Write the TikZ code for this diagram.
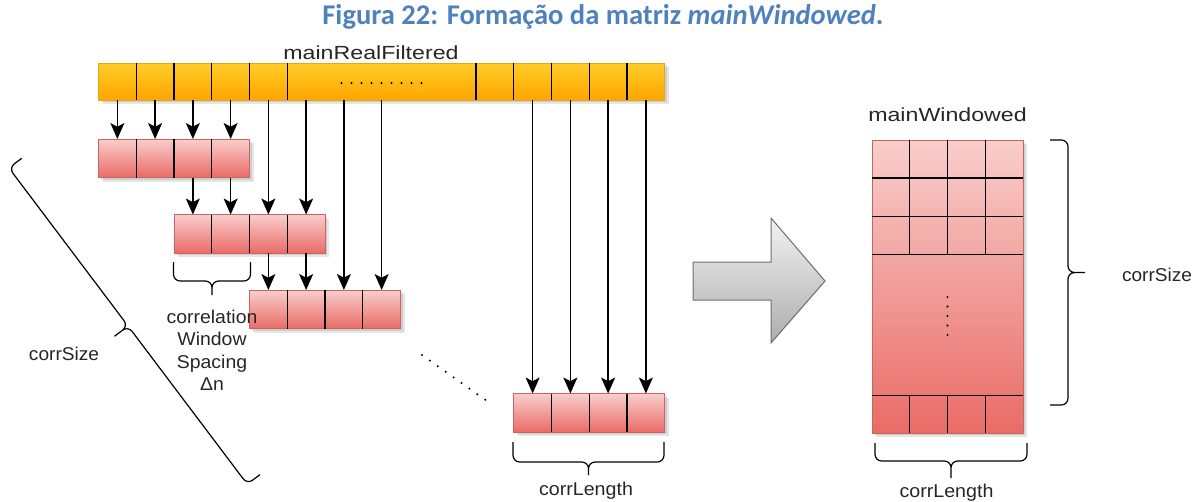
\documentclass[tikz,border=0pt]{standalone}
\usepackage{fontspec}
\setmainfont{Liberation Sans}
\newfontfamily\capfont{Carlito}
\usetikzlibrary{arrows.meta,calc}

\definecolor{redfill}{HTML}{F8CECC}
\definecolor{redgrad}{HTML}{EA6B66}
\definecolor{redline}{HTML}{C96561}
\definecolor{orfill}{HTML}{FFCD28}
\definecolor{orgrad}{HTML}{FFA500}
\definecolor{orline}{HTML}{E0A820}
\definecolor{grayfill}{HTML}{F2F2F2}
\definecolor{graygrad}{HTML}{ADADAD}
\definecolor{grayline}{HTML}{6E6E6E}
\definecolor{capblue}{HTML}{4F81BD}
\definecolor{txt}{HTML}{262626}

% a curly brace: origin, angle, length, arm depth, stem length
\newcommand\cbrace[6]{%
  \draw[bracestyle,shift={(#1,#2)},rotate=#3]
    (0,0) -- (0,#5) -- (#4/2,#5) -- (#4/2,#5+#6)
    (#4,0) -- (#4,#5) -- (#4/2,#5) -- (#4/2,#5+#6);}

% soft drop shadow under a box
\newcommand\boxshadow[4]{%
  \fill[black,opacity=0.10] (#1+2,#2+2) rectangle (#3+2,#4+2);
  \fill[black,opacity=0.10] (#1+4,#2+4) rectangle (#3+4,#4+4);}

\begin{document}
\begin{tikzpicture}[x=0.75pt,y=-0.75pt,
  rowbox/.style={draw=redline,line width=0.75pt,top color=redfill,bottom color=redgrad,
    minimum width=113.25pt,minimum height=28.875pt,inner sep=0pt,outer sep=0pt,anchor=north west},
  barbox/.style={draw=orline,line width=0.75pt,top color=orfill,bottom color=orgrad,
    minimum width=424.6875pt,minimum height=27.75pt,inner sep=0pt,outer sep=0pt,anchor=north west},
  matbox/.style={draw=redline,line width=0.75pt,top color=redfill,bottom color=redgrad,
    minimum width=113.25pt,minimum height=219.75pt,inner sep=0pt,outer sep=0pt,anchor=north west},
  rowcell/.style={minimum width=28.3125pt,minimum height=28.875pt,inner sep=0pt,outer sep=0pt,anchor=north west},
  barcell/.style={minimum width=28.3125pt,minimum height=27.75pt,inner sep=0pt,outer sep=0pt,anchor=north west},
  divider/.style={black,line width=0.9pt},
  arr/.style={black,line width=1.1pt,-{Stealth[length=12pt,width=10.5pt,inset=2.8pt]}},
  bracestyle/.style={black,line width=0.9pt,rounded corners=5pt},
  lbl/.style={text=txt,font=\fontsize{13.9}{16.9}\selectfont,inner sep=0pt},
  head/.style={text=txt,font=\fontsize{14.25}{17}\selectfont,inner sep=0pt},
  dot/.style={black}
]
\useasboundingbox (0,0) rectangle (1203,501);

% caption
\node[anchor=base,text=capblue,inner sep=0pt,font=\capfont\bfseries\fontsize{21.4}{24}\selectfont]
  (caption) at (603,24) {Figura 22: Formação da matriz \textit{mainWindowed}.};

% input vector
\boxshadow{98.5}{63}{664.75}{100}
\node[barbox] (bar) at (98.5,63) {};
\foreach \k in {0,...,14}
  \node[barcell] (t\k) at (98.5+\k*37.75,63) {};
\foreach \k in {1,...,5,11,12,13,14}
  \draw[divider] (t\k.north west) -- (t\k.south west);
\draw[divider] (t10.north west) -- (t10.south west);
\foreach \i in {0,...,8}
  \fill[dot] (341.5+\i*10,83) circle[radius=0.85pt];
\node[head,anchor=base] (lbar) at (371,59.3) {\scalebox{1.22}[1]{mainRealFiltered}};

% correlation windows
\foreach \r/\x/\y in {0/98.5/139,1/174/214.5,2/249.5/290,3/513.75/393.5}{
  \boxshadow{\x}{\y}{\x+151}{\y+38.5}
  \node[rowbox] (row\r) at (\x,\y) {};
  \foreach \c in {0,...,3}
    \node[rowcell] (r\r-\c) at (\x+\c*37.75,\y) {};
  \foreach \c in {1,2,3}
    \draw[divider] (r\r-\c.north west) -- (r\r-\c.south west);
}

% samples copied into each window
\foreach \k in {0,...,3}
  \draw[arr] (t\k.south) -- (r0-\k.north);
\draw[arr] (r0-2.south) -- (r1-0.north);
\draw[arr] (r0-3.south) -- (r1-1.north);
\draw[arr] (t4.south) -- (r1-2.north);
\draw[arr] (t5.south) -- (r1-3.north);
\draw[arr] (r1-2.south) -- (r2-0.north);
\draw[arr] (r1-3.south) -- (r2-1.north);
\draw[arr] (t6.south) -- (r2-2.north);
\draw[arr] (t7.south) -- (r2-3.north);
\draw[arr] (t11.south) -- (r3-0.north);
\draw[arr] (t12.south) -- (r3-1.north);
\draw[arr] (t13.south) -- (r3-2.north);
\draw[arr] (t14.south) -- (r3-3.north);

% windows left out
\foreach \i in {0,...,8}
  \fill[dot] (422+\i*7.9,355+\i*5.6) circle[radius=0.85pt];

% window spacing
\cbrace{173.5}{262}{0}{77}{19}{14}
\node[lbl,align=center,anchor=base] (lspacing) at (212,390.7)
  {\scalebox{1.05}[1]{correlation}\\\scalebox{1.05}[1]{Window}\\\scalebox{1.05}[1]{Spacing}\\\scalebox{1.05}[1]{Δn}};

% number of windows
\cbrace{21.7}{158.3}{-53}{396}{16}{17}
\node[lbl,anchor=base] (lsizeL) at (64,360) {\scalebox{1.03}[1]{corrSize}};

% window length
\cbrace{513}{442}{0}{151}{20}{13}
\node[lbl,anchor=base] (llenL) at (586,495.7) {\scalebox{1.06}[1]{corrLength}};

% transformation arrow
\shade[top color=grayfill,bottom color=graygrad,draw=grayline,line width=0.75pt]
  (693,262) -- (771,262) -- (771,218) -- (825,281) -- (771,343) -- (771,300) -- (693,300) -- cycle;

% output matrix
\boxshadow{872}{140}{1023}{433}
\node[matbox] (mw) at (872,140) {};
\foreach \yy in {178,216.5,254.5,395.5}
  \draw[divider] (872,\yy) -- (1023,\yy);
\foreach \k in {1,2,3}{
  \draw[divider] (872+\k*37.75,140) -- (872+\k*37.75,254.5);
  \draw[divider] (872+\k*37.75,395.5) -- (872+\k*37.75,433);
}
\foreach \i in {0,...,4}
  \fill[dot] (947.5,297+\i*9.5) circle[radius=0.85pt];
\node[head,anchor=base] (lmw) at (947.5,121.7) {\scalebox{1.22}[1]{mainWindowed}};

\cbrace{1050}{405}{90}{265}{18}{17}
\node[lbl,anchor=base] (lsizeR) at (1157,281) {\scalebox{1.03}[1]{corrSize}};

\cbrace{875}{443}{0}{152}{18}{17}
\node[lbl,anchor=base] (llenR) at (946.5,497) {\scalebox{1.06}[1]{corrLength}};
\end{tikzpicture}
\end{document}
